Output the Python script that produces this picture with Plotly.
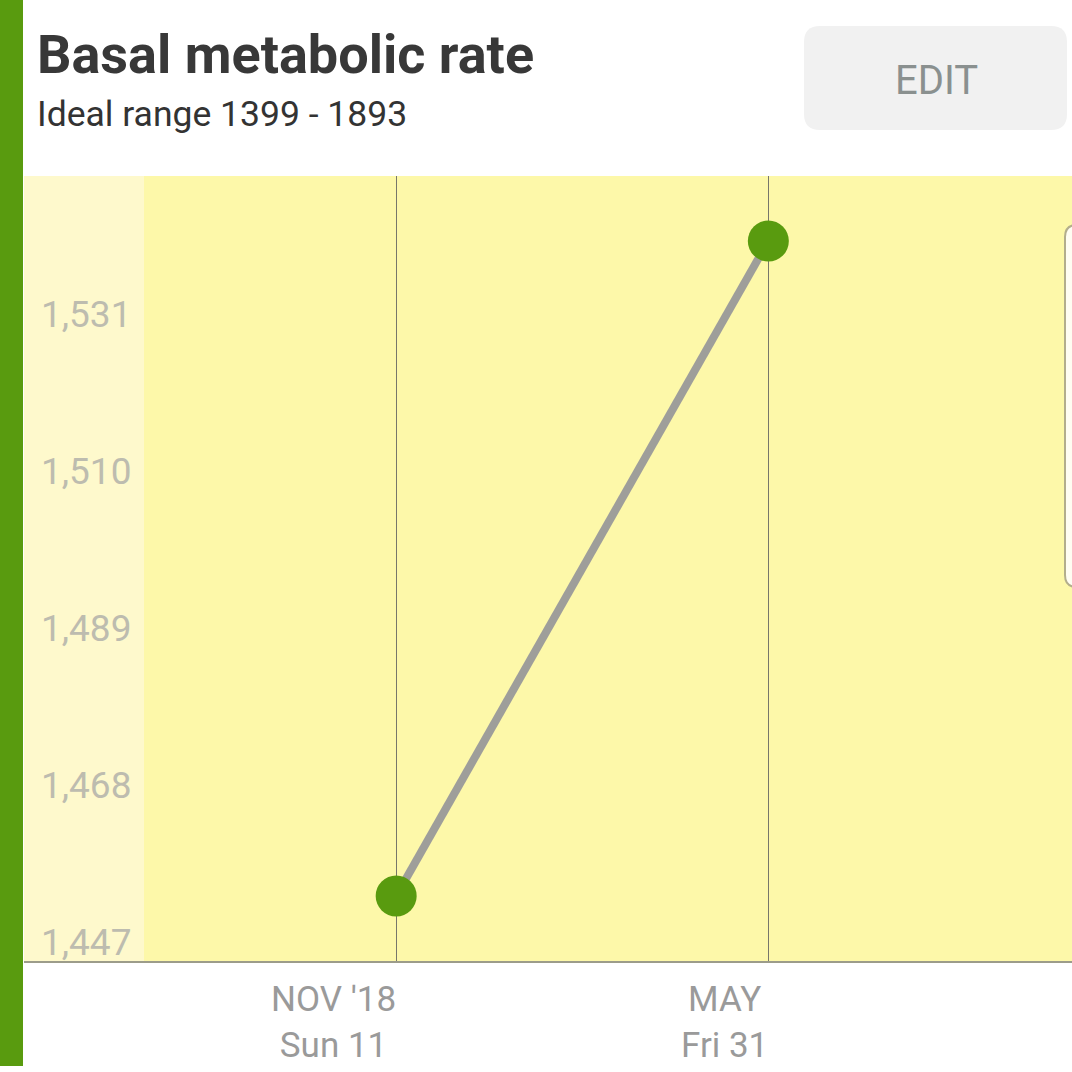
import plotly.graph_objects as go

# ---- data ----
dates = ["2018-11-11", "2019-05-31"]
bmr_values = [1455.7, 1543.3]
date_labels = ["NOV '18<br>Sun 11", "MAY<br>Fri 31"]
y_ticks = [1447, 1468, 1489, 1510, 1531]
y_tick_labels = ["1,447", "1,468", "1,489", "1,510", "1,531"]
x_range = ["2018-04-24", "2019-11-11"]
y_range = [1447, 1552]
title_text = "Basal metabolic rate"
subtitle_text = "Ideal range 1399 - 1893"

W = H = 1072
GREEN = "#599B0F"
FONT = "Roboto"


def px(x):
    return x / W


def py(y):
    return 1 - y / H


def rrect(x0, y0, x1, y1, r):
    # rounded rectangle path in paper coords from pixel values
    X0, X1 = px(x0), px(x1)
    Y0, Y1 = py(y0), py(y1)
    R = r / W
    return (f"M {X0+R},{Y0} L {X1-R},{Y0} Q {X1},{Y0} {X1},{Y0-R} "
            f"L {X1},{Y1+R} Q {X1},{Y1} {X1-R},{Y1} L {X0+R},{Y1} "
            f"Q {X0},{Y1} {X0},{Y1+R} L {X0},{Y0-R} Q {X0},{Y0} {X0+R},{Y0} Z")


fig = go.Figure()
fig.add_trace(go.Scatter(
    x=dates, y=bmr_values, mode="lines+markers",
    line=dict(color="#9E9E9A", width=8),
    marker=dict(color=GREEN, size=41, line=dict(width=0)),
    hoverinfo="skip", showlegend=False,
))

shapes = [
    # light left column of plot
    dict(type="rect", xref="paper", yref="paper", x0=px(24), x1=px(144),
         y0=py(961), y1=py(176), fillcolor="#FEF9CC", line=dict(width=0), layer="below"),
    # green left bar
    dict(type="rect", xref="paper", yref="paper", x0=0, x1=px(23),
         y0=py(1066), y1=1, fillcolor=GREEN, line=dict(width=0), layer="above"),
    # EDIT button
    dict(type="path", xref="paper", yref="paper", path=rrect(804, 26, 1067, 130, 16),
         fillcolor="#F1F1F1", line=dict(width=0)),
    # right side tab
    dict(type="path", xref="paper", yref="paper", path=rrect(1065, 225, 1100, 587, 12),
         fillcolor="#FFFDF2", line=dict(color="#B3AE8C", width=2), layer="above"),
]

annotations = [
    dict(text=f"<b>{title_text}</b>", xref="paper", yref="paper", x=px(35), y=py(54),
         xanchor="left", yanchor="middle", showarrow=False,
         font=dict(family=FONT, size=54, color="#383838")),
    dict(text=subtitle_text, xref="paper", yref="paper", x=px(35), y=py(114),
         xanchor="left", yanchor="middle", showarrow=False,
         font=dict(family=FONT, size=35.5, color="#333333")),
    dict(text="EDIT", xref="paper", yref="paper", x=px(936), y=py(80),
         xanchor="center", yanchor="middle", showarrow=False,
         font=dict(family=FONT, size=40, color="#8A908F")),
]
for v, lab in zip(y_ticks, y_tick_labels):
    annotations.append(dict(text=lab, xref="paper", yref="y", x=px(39), y=v,
                            xanchor="left", yanchor="bottom", yshift=-5, showarrow=False,
                            font=dict(family=FONT, size=37, color="#BDBCAF")))
for d, lab in zip(dates, date_labels):
    annotations.append(dict(text=lab, xref="x", yref="paper", x=d, y=py(977),
                            xanchor="right", yanchor="top", align="center", xshift=2,
                            showarrow=False,
                            font=dict(family=FONT, size=35, color="#9A9A9A")))

fig.update_layout(
    width=W, height=H,
    margin=dict(l=0, r=0, t=0, b=0),
    paper_bgcolor="white",
    plot_bgcolor="#FDF8A9",
    shapes=shapes,
    annotations=annotations,
    xaxis=dict(domain=[px(24), 1], range=x_range, type="date",
               tickvals=dates, showticklabels=False, ticks="",
               showgrid=True, gridcolor="#77776A", gridwidth=1,
               showline=True, linecolor="#9C9C8A", linewidth=2,
               zeroline=False, fixedrange=True),
    yaxis=dict(domain=[py(961), py(176)], range=y_range,
               tickvals=y_ticks, showticklabels=False, ticks="",
               showgrid=False, zeroline=False, showline=False, fixedrange=True),
    showlegend=False,
)

fig.write_html("out.html")
